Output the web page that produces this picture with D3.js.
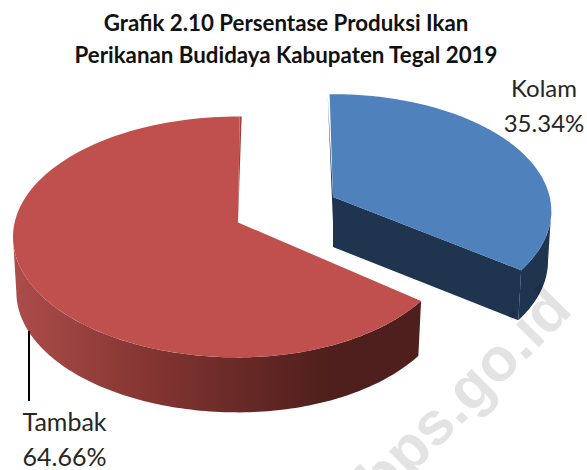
<!DOCTYPE html>
<html><head><meta charset="utf-8">
<script src="https://cdnjs.cloudflare.com/ajax/libs/d3/7.8.5/d3.min.js"></script>
<style>html,body{margin:0;padding:0;background:#fff}svg{display:block}text{font-family:Lato,"Noto Sans",sans-serif}</style>
</head><body><svg id="c" width="587" height="470"></svg>
<script>
const categories = ["Kolam", "Tambak"];
const values = [35.34, 64.66];
const labels = ["35.34%", "64.66%"];
const titleLines = ["Grafik 2.10 Persentase Produksi Ikan", "Perikanan Budidaya Kabupaten Tegal 2019"];
const watermark = "bps.go.id";

const svg = d3.select("#c");
const arcs = d3.pie().sort(null)(values);
const P = 0.12, KX = 223.4, KY = 118.7, LIFT = 0.985;
function proj(a0, o, lift) {
  const a = a0 + o.rot;
  const u = Math.sin(a), v = -Math.cos(a), s = 1 / (1 - P * v);
  return [o.cx + o.r * KX * u * s * (u > 0 ? o.kr : 1) * (lift ? LIFT : 1), o.cy + o.r * KY * v * s + (lift ? o.d : 0)];
}
const line = d3.line();
function rim(a0, a1, o, lift) { return d3.range(0, 121).map(i => proj(a0 + (a1 - a0) * i / 120, o, lift)); }

const defs = svg.append("defs");
const g = defs.append("linearGradient").attr("id", "redSide").attr("gradientUnits", "userSpaceOnUse")
  .attr("x1", 13).attr("x2", 330).attr("y1", 0).attr("y2", 0);
g.append("stop").attr("offset", 0).attr("stop-color", "#ac4d4a");
g.append("stop").attr("offset", 0.45).attr("stop-color", "#823431");
g.append("stop").attr("offset", 1).attr("stop-color", "#4e1f1c");

const deg = Math.PI / 180;
const opts = [
  { cx: 333, cy: 197, r: 0.97, d: 50, rot: -1 * deg, kr: 1, top: "#4f81bd", side: "#1f344f" },
  { cx: 238, cy: 222.5, r: 1, d: 55, rot: 0.5 * deg, kr: 0.96, top: "#c0504d", side: "url(#redSide)" }
];

arcs.forEach((arc, i) => {
  const o = opts[i];
  const top = rim(arc.startAngle, arc.endAngle, o, false);
  // outer wall runs between the silhouette points of the rim (widest where v = P)
  const a0 = Math.max(arc.startAngle, Math.PI / 2 + P - o.rot);
  const a1 = Math.min(arc.endAngle, Math.PI * 1.5 - P - o.rot);
  const w0 = rim(a0, a1, o, false), w1 = rim(a0, a1, o, true);
  const apexT = [o.cx, o.cy], apexB = [o.cx, o.cy + o.d];
  if (i === 0) {
    const s = proj(arc.startAngle, o, false);
    svg.append("path").attr("d", line([[s[0] - 2, s[1]], apexT, apexB, [apexB[0] + 1, apexB[1]]]) + "Z").attr("fill", o.side);
    const e = proj(arc.endAngle, o, false), eb = proj(arc.endAngle, o, true);
    svg.append("path").attr("d", line([apexT, e, eb, apexB]) + "Z").attr("fill", o.side);
  } else {
    const s = proj(arc.endAngle, o, false);
    svg.append("path").attr("d", line([[s[0] + 2, s[1]], [s[0], s[1]], [o.cx, o.cy]]) + "Z").attr("fill", "#9c4340");
  }
  svg.append("path").attr("d", line(w0.concat(w1.reverse())) + "Z").attr("fill", o.side);
  svg.append("path").attr("d", line([[o.cx, o.cy]].concat(top)) + "Z").attr("fill", o.top);
});

svg.append("line").attr("x1", 29).attr("x2", 29).attr("y1", 331).attr("y2", 401).attr("stroke", "#000").attr("stroke-width", 2);

const title = svg.append("text").attr("text-anchor", "middle").attr("font-weight", 700).attr("font-size", 22.3).attr("fill", "#111");
titleLines.forEach((t, i) => title.append("tspan").attr("x", 286).attr("y", 31 + i * 32).text(t));

function lab(x, y, name, pct, size) {
  const t = svg.append("text").attr("text-anchor", "middle").attr("font-size", size).attr("fill", "#262626");
  t.append("tspan").attr("x", x).attr("y", y).text(name);
  t.append("tspan").attr("x", x).attr("y", y + 35).text(pct);
}
lab(544, 97, categories[0], labels[0], 24);
lab(64.5, 431, categories[1], labels[1], 25);

svg.append("text").attr("transform", "translate(574,312) rotate(-45)").attr("text-anchor", "end")
  .attr("font-weight", 700).attr("font-size", 61).attr("fill", "#000").attr("fill-opacity", 0.11)
  .style("font-family", "'Liberation Sans'").text(watermark);
</script></body></html>
